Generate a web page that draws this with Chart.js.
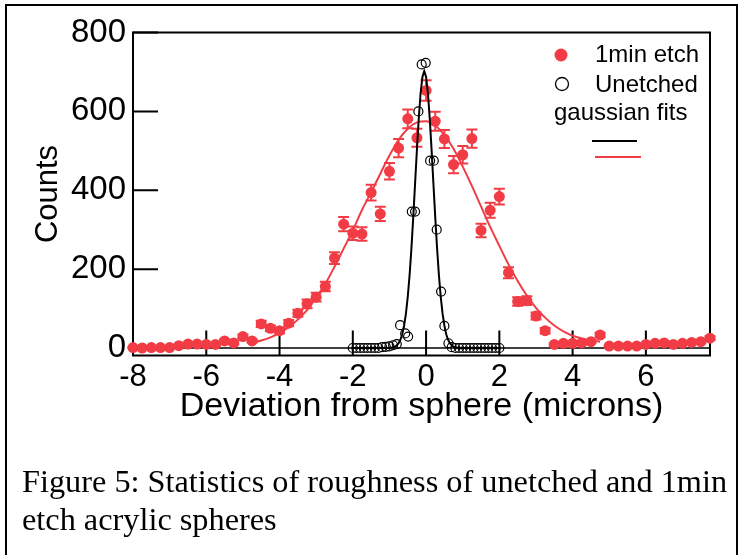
<!DOCTYPE html>
<html>
<head>
<meta charset="utf-8">
<title>Roughness statistics</title>
<script src="https://cdn.jsdelivr.net/npm/chart.js@4.4.1/dist/chart.umd.min.js"></script>
<style>
  html, body { margin: 0; padding: 0; background: #fff; }
  #figure { position: relative; width: 742px; height: 555px; overflow: hidden; }
  #border { position: absolute; left: 5px; top: 4px; width: 733px; height: 620px; border: 2px solid #000; box-sizing: border-box; }
  #plot { position: absolute; left: 0; top: 0; width: 742px; height: 555px; }
  #caption {
    position: absolute; left: 22px; top: 462px;
    font-family: "Liberation Serif", "Times New Roman", serif; font-size: 32.3px; line-height: 38px;
    white-space: nowrap; color: #000;
  }
</style>
</head>
<body>
<div id="figure">
  <div id="border"></div>
  <canvas id="plot" width="742" height="555"></canvas>
  <div id="caption">Figure 5: Statistics of roughness of unetched and 1min<br>etch acrylic spheres</div>
</div>
<script>
// 1 min etch histogram (bin centres in microns, counts, error bars)
const etchX = [-8, -7.75, -7.5, -7.25, -7, -6.75, -6.5, -6.25, -6, -5.75, -5.5, -5.25, -5, -4.75, -4.5, -4.25,
  -4, -3.75, -3.5, -3.25, -3, -2.75, -2.5, -2.25, -2, -1.75, -1.5, -1.25, -1, -0.75, -0.5, -0.25,
  0, 0.25, 0.5, 0.75, 1, 1.25, 1.5, 1.75, 2, 2.25, 2.5, 2.75, 3, 3.25, 3.5, 3.75,
  4, 4.25, 4.5, 4.75, 5, 5.25, 5.5, 5.75, 6, 6.25, 6.5, 6.75, 7, 7.25, 7.5, 7.75];
const etchCounts = [1, 0, 1, 1, 1, 6, 10, 10, 9, 9, 18, 13, 29, 18, 61, 50,
  44, 63, 88, 112, 129, 156, 228, 314, 291, 289, 394, 340, 448, 507, 581, 533,
  653, 575, 530, 465, 490, 531, 298, 349, 384, 191, 118, 120, 81, 44, 9, 12,
  12, 13, 16, 33, 5, 5, 5, 5, 9, 12, 13, 9, 12, 14, 16, 25];
const etchErr = [1, 0, 1, 1, 1, 2, 3, 3, 3, 3, 4, 4, 5, 4, 8, 7,
  7, 8, 9, 11, 11, 12, 15, 18, 17, 17, 20, 18, 21, 23, 24, 23,
  26, 24, 23, 22, 22, 23, 17, 19, 20, 14, 11, 11, 9, 7, 3, 3,
  3, 4, 4, 6, 2, 2, 2, 2, 3, 3, 4, 3, 3, 4, 4, 5];

// unetched histogram
const unetchedX = [-2, -1.9, -1.8, -1.7, -1.6, -1.5, -1.4, -1.3, -1.2, -1.1, -1, -0.9, -0.8,
  -0.71, -0.57, -0.49, -0.39, -0.3, -0.21, -0.12, -0.01, 0.11, 0.21, 0.29, 0.41, 0.5, 0.61,
  0.7, 0.8, 0.9, 1, 1.1, 1.2, 1.3, 1.4, 1.5, 1.6, 1.7, 1.8, 1.9, 2];
const unetchedCounts = [0, 0, 0, 0, 0, 0, 0, 0, 2, 3, 4, 7, 10,
  58, 37, 29, 346, 346, 600, 719, 723, 475, 475, 300, 143, 56, 12,
  2, 0, 0, 0, 0, 0, 0, 0, 0, 0, 0, 0, 0, 0];

// gaussian fit curves
const etchFitX = [-4.75, -4.5, -4.25, -4, -3.75, -3.5, -3.25, -3, -2.75, -2.5, -2.25, -2, -1.75, -1.5, -1.25, -1,
  -0.75, -0.5, -0.25, 0, 0.25, 0.5, 0.75, 1, 1.25, 1.5, 1.75, 2, 2.25, 2.5, 2.75, 3, 3.25, 3.5, 3.75, 4, 4.25, 4.5, 4.75];
const etchFitY = [14, 19, 27, 38, 53, 72, 96, 128, 163, 206, 252, 298, 350, 395, 442, 488,
  528, 556, 572, 575, 564, 540, 505, 460, 411, 359, 307, 259, 212, 170, 133, 102, 77, 57, 42, 31, 24, 19, 16];
const unetchedFitX = [-2, -1, -0.95, -0.9, -0.85, -0.8, -0.75, -0.7, -0.65, -0.6, -0.55, -0.5, -0.45, -0.4, -0.35,
  -0.3, -0.25, -0.2, -0.15, -0.1, -0.05, 0, 0.05, 0.1, 0.15, 0.2, 0.25, 0.3, 0.35, 0.4, 0.45, 0.5, 0.55, 0.6,
  0.65, 0.7, 0.75, 0.8, 0.85, 0.9, 2];
const unetchedFitY = [0, 0, 1, 2, 3, 7, 12, 21, 35, 57, 87, 130, 185, 253, 332,
  417, 503, 582, 646, 687, 702, 687, 646, 582, 503, 417, 332, 253, 185, 130, 87, 57, 35, 21,
  12, 7, 3, 2, 1, 0, 0];

// axes
const xTicks = [-8, -6, -4, -2, 0, 2, 4, 6];
const yTicks = [0, 200, 400, 600, 800];

const RED = '#f23c45';
const SANS = '"Liberation Sans", Arial, Helvetica, sans-serif';
Chart.defaults.font.family = SANS;
Chart.defaults.color = '#000';

function points(xs, ys) {
  return xs.map((x, i) => ({ x: x, y: ys[i] }));
}

// vertical error bars with caps, drawn just before the marker layer
const errorBars = {
  id: 'errorBars',
  beforeDatasetDraw(chart, args) {
    const ds = chart.data.datasets[args.index];
    if (!ds.errors) return;
    const ctx = chart.ctx;
    const ys = chart.scales.y;
    ctx.save();
    ctx.strokeStyle = ds.backgroundColor;
    ctx.lineWidth = 2;
    args.meta.data.forEach((pt, i) => {
      const v = ds.data[i].y;
      const e = ds.errors[i];
      if (!e) return;
      const top = ys.getPixelForValue(v + e);
      const bot = ys.getPixelForValue(v - e);
      ctx.beginPath();
      ctx.moveTo(pt.x, top); ctx.lineTo(pt.x, bot);
      ctx.moveTo(pt.x - 5.5, top); ctx.lineTo(pt.x + 5.5, top);
      ctx.moveTo(pt.x - 5.5, bot); ctx.lineTo(pt.x + 5.5, bot);
      ctx.stroke();
    });
    ctx.restore();
  }
};

// box frame, zero line and inward tick marks
const frame = {
  id: 'frame',
  beforeDatasetsDraw(chart) {
    const { ctx, chartArea: a, scales: { x, y } } = chart;
    ctx.save();
    ctx.strokeStyle = '#000';
    ctx.lineWidth = 1.5;
    const y0 = y.getPixelForValue(0);
    ctx.beginPath();
    ctx.moveTo(a.left, y0); ctx.lineTo(a.right, y0);
    ctx.stroke();
    ctx.lineWidth = 2;
    ctx.strokeRect(a.left, a.top, a.right - a.left, a.bottom - a.top);
    ctx.beginPath();
    x.ticks.forEach(t => {
      const px = x.getPixelForValue(t.value);
      ctx.moveTo(px, a.bottom); ctx.lineTo(px, a.bottom - 25);
    });
    y.ticks.forEach(t => {
      const py = y.getPixelForValue(t.value);
      ctx.moveTo(a.left, py); ctx.lineTo(a.left + 25, py);
    });
    ctx.stroke();
    ctx.restore();
  }
};

// legend box in the upper right corner
const legendBox = {
  id: 'legendBox',
  afterDatasetsDraw(chart) {
    const ctx = chart.ctx;
    ctx.save();
    ctx.fillStyle = RED;
    ctx.beginPath(); ctx.arc(561, 55, 6.5, 0, Math.PI * 2); ctx.fill();
    ctx.strokeStyle = '#000';
    ctx.lineWidth = 1.3;
    ctx.beginPath(); ctx.arc(562, 84, 6.5, 0, Math.PI * 2); ctx.stroke();
    ctx.fillStyle = '#000';
    ctx.font = '24px ' + SANS;
    ctx.textAlign = 'left';
    ctx.textBaseline = 'alphabetic';
    ctx.fillText('1min etch', 595, 62);
    ctx.fillText('Unetched', 595, 92);
    ctx.fillText('gaussian fits', 554, 120);
    ctx.lineWidth = 2;
    ctx.beginPath(); ctx.moveTo(592, 141); ctx.lineTo(637, 141); ctx.stroke();
    ctx.strokeStyle = RED;
    ctx.beginPath(); ctx.moveTo(595, 157); ctx.lineTo(641, 157); ctx.stroke();
    ctx.restore();
  }
};

new Chart(document.getElementById('plot'), {
  type: 'scatter',
  data: {
    datasets: [
      {
        label: 'Unetched',
        data: points(unetchedX, unetchedCounts),
        pointRadius: 4.5,
        pointBackgroundColor: 'rgba(0,0,0,0)',
        pointBorderColor: '#000',
        pointBorderWidth: 1.2,
        order: 1,
        clip: false
      },
      {
        label: 'Unetched fit',
        data: points(unetchedFitX, unetchedFitY),
        showLine: true,
        borderColor: '#000',
        borderWidth: 2,
        pointRadius: 0,
        order: 2
      },
      {
        label: '1min etch',
        data: points(etchX, etchCounts),
        errors: etchErr,
        backgroundColor: RED,
        pointRadius: 5.5,
        pointBackgroundColor: RED,
        pointBorderWidth: 0,
        order: 3,
        clip: false
      },
      {
        label: '1min etch fit',
        data: points(etchFitX, etchFitY),
        showLine: true,
        borderColor: RED,
        borderWidth: 2,
        pointRadius: 0,
        cubicInterpolationMode: 'monotone',
        order: 4
      }
    ]
  },
  options: {
    responsive: false,
    animation: false,
    events: [],
    layout: { padding: { left: 0, right: 32, top: 32.5, bottom: 119.5 } },
    plugins: { legend: { display: false }, tooltip: { enabled: false } },
    scales: {
      x: {
        type: 'linear',
        min: -8,
        max: 7.75,
        afterBuildTicks: s => { s.ticks = xTicks.map(v => ({ value: v })); },
        afterFit: s => { s.height = 80; },
        grid: { display: false, drawTicks: false },
        border: { display: false },
        ticks: { font: { size: 31 }, padding: 3, maxRotation: 0, autoSkip: false, callback: v => String(v) },
        title: { display: true, text: 'Deviation from sphere (microns)', font: { size: 34 }, padding: { top: 0, bottom: 8 } }
      },
      y: {
        type: 'linear',
        min: -19,
        max: 800,
        afterBuildTicks: s => { s.ticks = yTicks.map(v => ({ value: v })); },
        afterFit: s => { s.width = 133; },
        grid: { display: false, drawTicks: false },
        border: { display: false },
        ticks: { font: { size: 33 }, padding: 7, callback: v => String(v) },
        title: { display: true, text: 'Counts', font: { size: 31 }, padding: { top: 30, bottom: 0 } }
      }
    }
  },
  plugins: [frame, errorBars, legendBox]
});
</script>
</body>
</html>
